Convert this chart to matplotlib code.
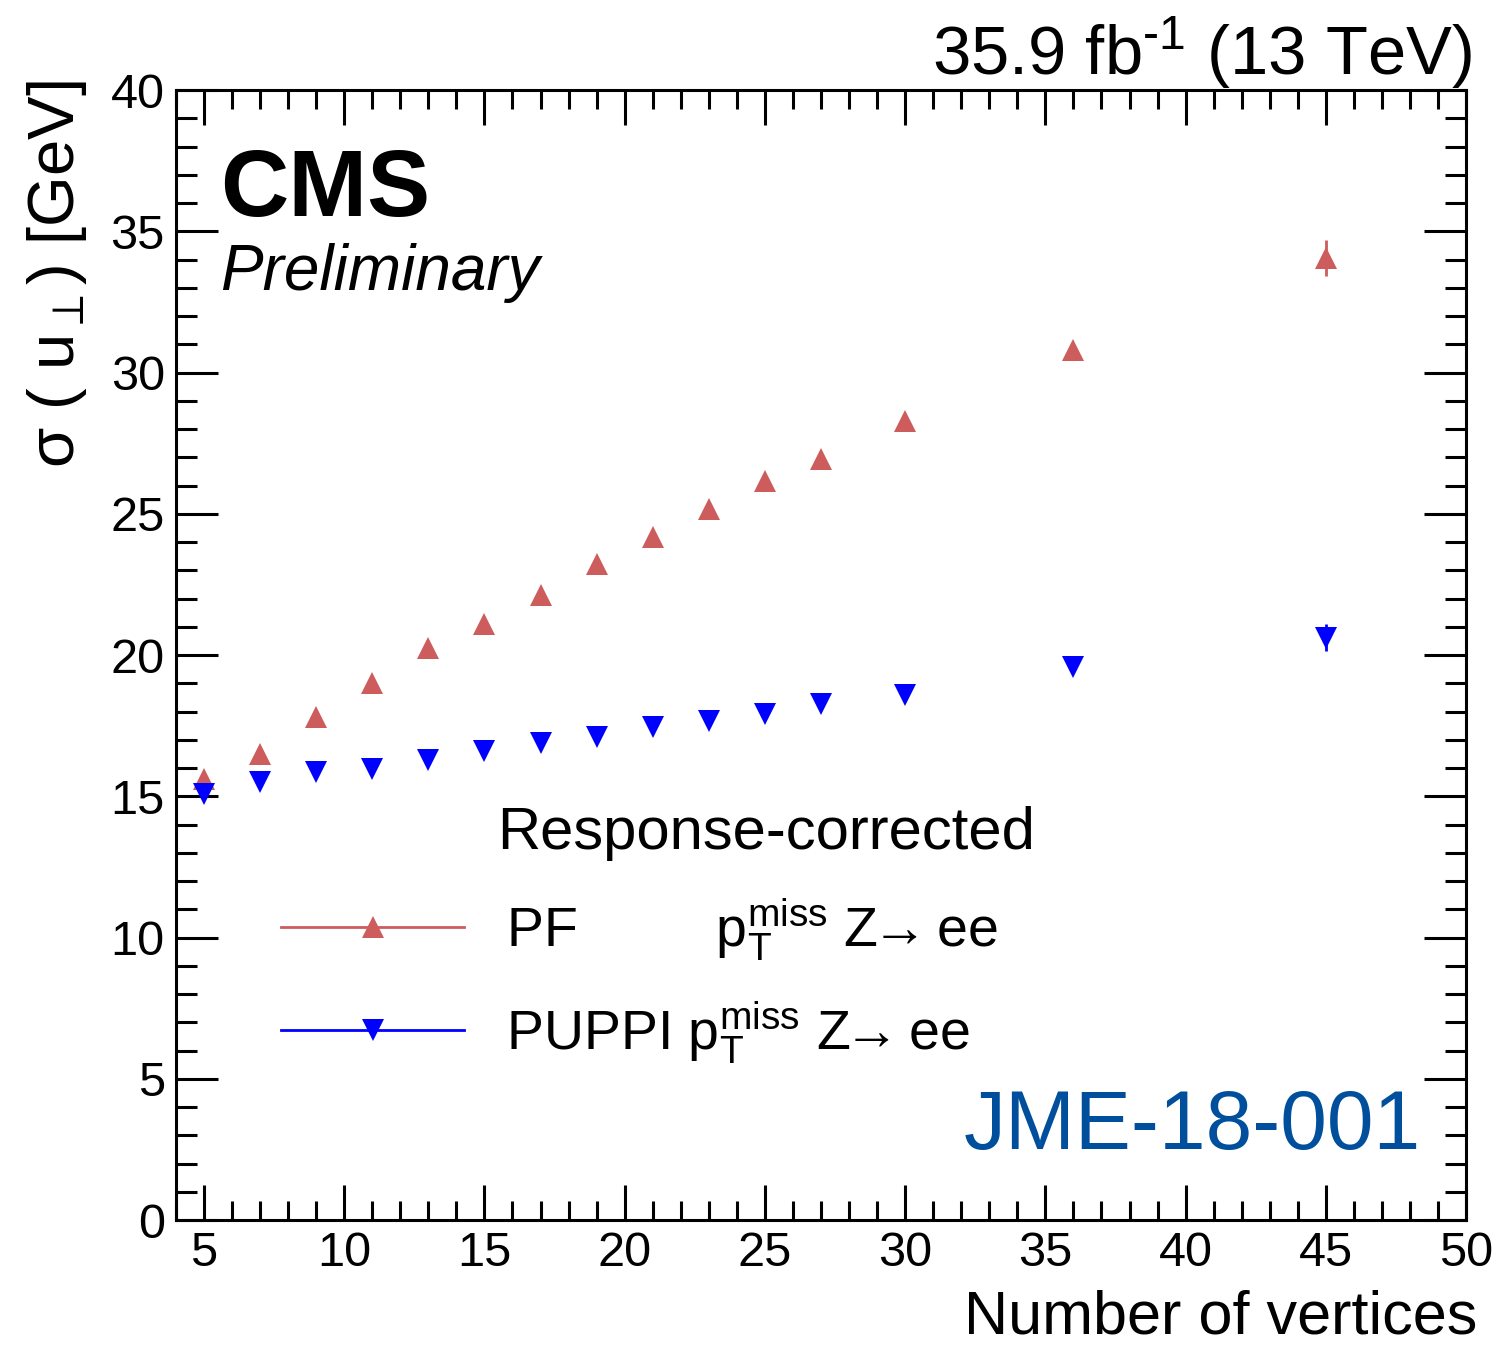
import matplotlib
matplotlib.use("Agg")
import matplotlib.pyplot as plt
from matplotlib.ticker import MultipleLocator

plt.rcParams['font.family'] = ['Liberation Sans', 'DejaVu Sans']
plt.rcParams['mathtext.fontset'] = 'custom'
plt.rcParams['mathtext.rm'] = 'Liberation Sans'
plt.rcParams['mathtext.it'] = 'Liberation Sans'

# data
n_vtx = [5, 7, 9, 11, 13, 15, 17, 19, 21, 23, 25, 27, 30, 36, 45]
pf_sigma = [15.6, 16.5, 17.8, 19.0, 20.25, 21.1, 22.13, 23.23, 24.18, 25.18,
            26.17, 26.95, 28.3, 30.79, 34.05]
pf_err = [0.05, 0.04, 0.04, 0.04, 0.04, 0.04, 0.05, 0.05, 0.06, 0.07,
          0.08, 0.1, 0.1, 0.2, 0.64]
puppi_sigma = [15.07, 15.5, 15.85, 15.95, 16.3, 16.6, 16.9, 17.1, 17.45, 17.65,
               17.9, 18.25, 18.6, 19.56, 20.62]
puppi_err = [0.04, 0.03, 0.03, 0.03, 0.03, 0.03, 0.04, 0.04, 0.05, 0.05,
             0.06, 0.07, 0.08, 0.15, 0.48]

pf_col = '#cd5c5c'
puppi_col = '#0000ff'

fig = plt.figure(figsize=(14.96, 13.46), dpi=100)
ax = fig.add_axes([0.1176, 0.0936, 0.8624, 0.8395])

ax.errorbar(n_vtx, pf_sigma, yerr=pf_err, fmt='^', color=pf_col, ms=16,
            elinewidth=2, capsize=0, mew=0)
ax.errorbar(n_vtx, puppi_sigma, yerr=puppi_err, fmt='v', color=puppi_col, ms=16,
            elinewidth=2, capsize=0, mew=0)

ax.set_xlim(4, 50)
ax.set_ylim(0, 40)
ax.xaxis.set_major_locator(MultipleLocator(5))
ax.xaxis.set_minor_locator(MultipleLocator(1))
ax.yaxis.set_major_locator(MultipleLocator(5))
ax.yaxis.set_minor_locator(MultipleLocator(1))
ax.tick_params(which='both', direction='in', top=True, right=True, width=2.2,
               labelsize=35)
ax.tick_params(axis='x', which='major', length=25, pad=8)
ax.tick_params(axis='x', which='minor', length=14)
ax.tick_params(axis='y', which='major', length=30, pad=8)
ax.tick_params(axis='y', which='minor', length=15)
for s in ax.spines.values():
    s.set_linewidth(2.2)

ax.set_xlabel('Number of vertices', fontsize=44)
ax.xaxis.label.set_ha('right')
ax.xaxis.label.set_va('baseline')
ax.xaxis.set_label_coords(1.0085, -0.1)

ax.set_ylabel(r'$\sigma$ ( u$_{\perp}$) [GeV]', fontsize=47)
ax.yaxis.label.set_ha('right')
ax.yaxis.label.set_va('center')
ax.yaxis.set_label_coords(-0.092, 1.009)

fig.text(0.984, 0.961, '35.9 fb$^{\\mathregular{\u2010}1}$ (13 TeV)', fontsize=49.5,
         ha='right', va='center')
ax.text(0.034, 0.91, 'CMS', transform=ax.transAxes, fontsize=68,
        fontweight='bold', va='center', ha='left')
ax.text(0.034, 0.838, 'Preliminary', transform=ax.transAxes, fontsize=46,
        style='italic', va='center', ha='left')
ax.text(0.965, 0.082, 'JME-18-001', transform=ax.transAxes, fontsize=60.5,
        color='#004f9c', va='center', ha='right')

ax.text(0.249, 0.3425, 'Response-corrected', transform=ax.transAxes,
        fontsize=43, va='center', ha='left')
h_pf, = ax.plot([], [], marker='^', color=pf_col, ms=16, mew=0, lw=2)
h_pu, = ax.plot([], [], marker='v', color=puppi_col, ms=16, mew=0, lw=2)
leg = ax.legend([h_pf, h_pu],
                ['PF         p$_{\\mathregular{T}}^{\\mathregular{miss}}$ Z$\\!\\!\\rightarrow\\!\\!$ ee',
                 'PUPPI p$_{\\mathregular{T}}^{\\mathregular{miss}}$ Z$\\!\\!\\rightarrow\\!\\!$ ee'],
                fontsize=40, frameon=False, loc='center left',
                bbox_to_anchor=(0.0814, 0.2115), borderpad=0, borderaxespad=0,
                handlelength=3.3, handletextpad=0.75, labelspacing=0.65)

fig.savefig('out.png', dpi=100)
